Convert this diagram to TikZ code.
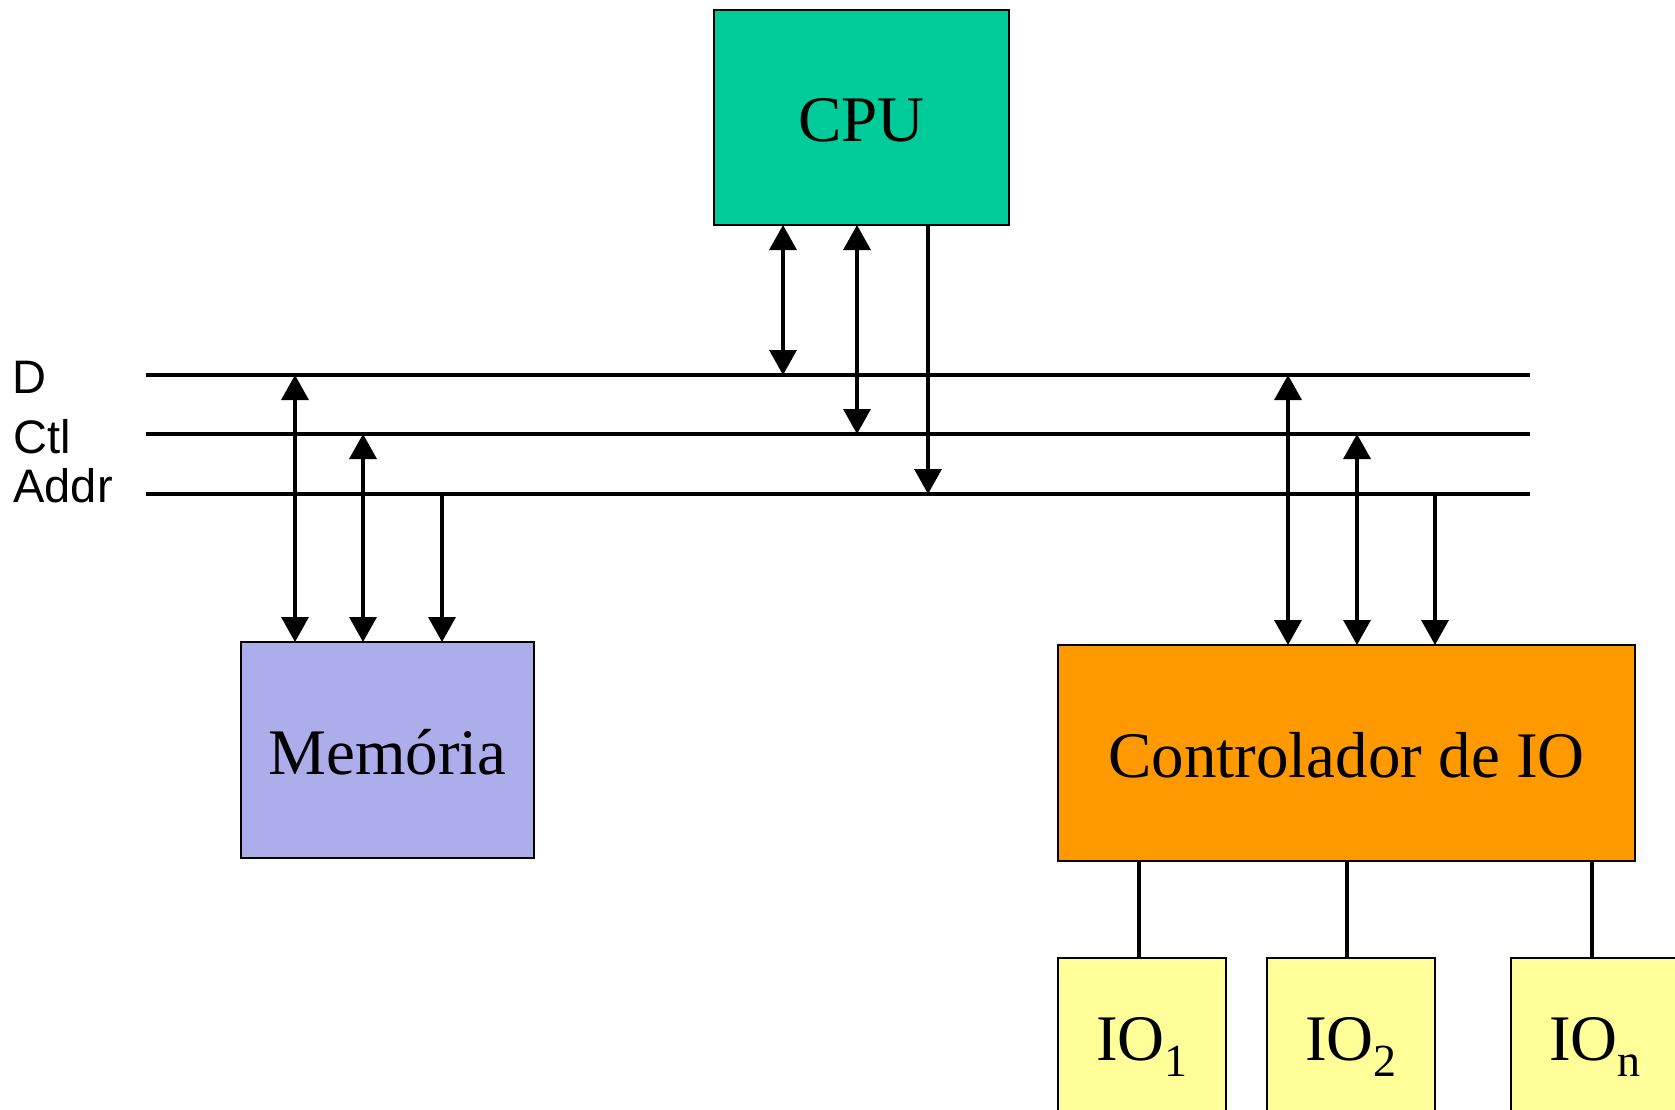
\documentclass[tikz,border=0pt]{standalone}
\usepackage{fontspec}
\setmainfont{Liberation Serif}
\newfontfamily\arialf{Liberation Sans}
\usetikzlibrary{arrows.meta}
\definecolor{cpugreen}{RGB}{0,204,153}
\definecolor{memblue}{RGB}{173,173,235}
\definecolor{ctlorange}{RGB}{255,153,0}
\definecolor{ioyellow}{RGB}{255,255,153}
\begin{document}
\begin{tikzpicture}[x=0.5pt,y=-0.5pt,
  box/.style={draw=black,line width=1pt,outer sep=0pt,inner sep=0pt,
    font=\fontsize{32.5}{39}\selectfont,text height=24pt,text depth=0pt},
  bus/.style={line width=1.8pt},
  wire/.style={line width=1.7pt},
  dbl/.style={wire,{Triangle[width=13.5pt,length=12.5pt]}-{Triangle[width=13.5pt,length=12.5pt]}},
  sgl/.style={wire,-{Triangle[width=13.5pt,length=12.5pt]}},
  lbl/.style={font=\arialf\fontsize{23.5}{28}\selectfont,anchor=base west,inner sep=0pt}]
\useasboundingbox (0,0) rectangle (1675,1109);
\clip (0,0) rectangle (1675,1109);

% boxes
\node[box,fill=cpugreen,minimum width=147.5pt,minimum height=107.5pt] (cpu) at (861.5,117.5) {CPU};
\node[box,fill=memblue,minimum width=146.5pt,minimum height=108pt] (mem) at (387.5,750) {Memória};
\node[box,fill=ctlorange,minimum width=288.5pt,minimum height=108pt] (ctl) at (1346.5,753) {Controlador de IO};
\node[box,fill=ioyellow,minimum width=84pt,minimum height=78.5pt] (io1) at (1142,1036.5) {IO\raisebox{-8pt}{\fontsize{23}{23}\selectfont 1}};
\node[box,fill=ioyellow,minimum width=84pt,minimum height=78.5pt] (io2) at (1351,1036.5) {IO\raisebox{-8pt}{\fontsize{23}{23}\selectfont 2}};
\node[box,fill=ioyellow,minimum width=84pt,minimum height=78.5pt] (ion) at (1595,1036.5) {IO\raisebox{-8pt}{\fontsize{23}{23}\selectfont n}};

% bus labels
\node[lbl] (ld) at (12,393) {D};
\node[lbl] (lc) at (13,453) {Ctl};
\node[lbl] (la) at (13,502) {Addr};

% bus lines
\coordinate (dL) at (146,375); \coordinate (dR) at (1530,375);
\coordinate (cL) at (146,434); \coordinate (cR) at (1530,434);
\coordinate (aL) at (146,494); \coordinate (aR) at (1530,494);
\draw[bus] (dL) -- (dR);
\draw[bus] (cL) -- (cR);
\draw[bus] (aL) -- (aR);

% memory connections
\coordinate (m1) at (295,375);
\coordinate (m2) at (363,434);
\coordinate (m3) at (442,494);
\draw[dbl] (m1) -- (m1 |- mem.north);
\draw[dbl] (m2) -- (m2 |- mem.north);
\draw[sgl] (m3) -- (m3 |- mem.north);

% CPU connections
\coordinate (p1) at (783,375);
\coordinate (p2) at (857,434);
\coordinate (p3) at (928,494);
\draw[dbl] (p1 |- cpu.south) -- (p1);
\draw[dbl] (p2 |- cpu.south) -- (p2);
\draw[sgl] (p3 |- cpu.south) -- (p3);

% IO controller connections
\coordinate (k1) at (1288,375);
\coordinate (k2) at (1357,434);
\coordinate (k3) at (1435,494);
\draw[dbl] (k1) -- (k1 |- ctl.north);
\draw[dbl] (k2) -- (k2 |- ctl.north);
\draw[sgl] (k3) -- (k3 |- ctl.north);

% controller to IO devices
\coordinate (q1) at (1139,861);
\coordinate (q2) at (1347,861);
\coordinate (q3) at (1592,861);
\draw[wire] (q1 |- ctl.south) -- (q1 |- io1.north);
\draw[wire] (q2 |- ctl.south) -- (q2 |- io2.north);
\draw[wire] (q3 |- ctl.south) -- (q3 |- ion.north);
\end{tikzpicture}
\end{document}
